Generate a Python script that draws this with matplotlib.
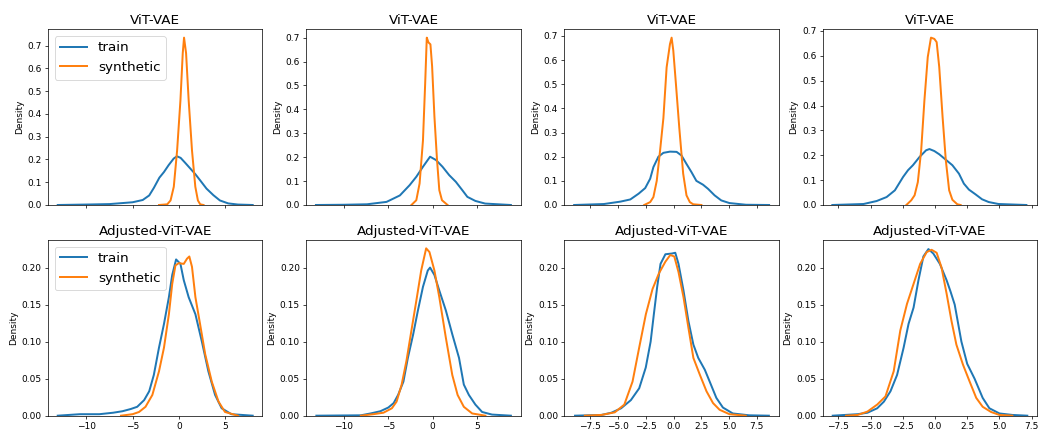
import matplotlib
matplotlib.use("Agg")
import matplotlib.pyplot as plt
from matplotlib.ticker import MultipleLocator

# KDE curves, (x, density) per curve
# top row: ViT-VAE, one curve pair per column
vit_train_1 = [(-13.1, 0.0), (-10.0, 0.002), (-7.5, 0.004), (-5.0, 0.012), (-3.9, 0.022),
               (-3.2, 0.042), (-2.7, 0.075), (-2.1, 0.120), (-1.6, 0.145), (-1.1, 0.175),
               (-0.55, 0.204), (-0.2, 0.214), (0.2, 0.207), (0.7, 0.185), (1.25, 0.160),
               (1.8, 0.135), (2.3, 0.109), (3.0, 0.072), (3.75, 0.043), (4.45, 0.020),
               (5.35, 0.007), (6.4, 0.002), (8.0, 0.0)]
vit_synth_1 = [(-2.14, 0.0), (-1.25, 0.003), (-0.89, 0.02), (-0.54, 0.08), (-0.18, 0.24),
               (0.18, 0.46), (0.43, 0.667), (0.57, 0.735), (0.79, 0.667), (1.07, 0.46),
               (1.43, 0.24), (1.79, 0.08), (2.07, 0.02), (2.32, 0.003), (2.68, 0.0)]

vit_train_2 = [(-13.15, 0.0), (-10.0, 0.001), (-7.4, 0.003), (-5.2, 0.013), (-3.7, 0.04),
               (-2.6, 0.083), (-1.85, 0.118), (-1.1, 0.16), (-0.3, 0.202), (0.37, 0.188),
               (1.1, 0.16), (1.85, 0.125), (2.6, 0.097), (3.33, 0.062), (3.9, 0.034),
               (4.8, 0.017), (5.9, 0.006), (8.8, 0.0)]
vit_synth_2 = [(-2.4, 0.0), (-1.85, 0.02), (-1.48, 0.09), (-1.1, 0.27), (-0.85, 0.51),
               (-0.67, 0.70), (-0.48, 0.68), (-0.26, 0.672), (-0.07, 0.58), (0.19, 0.37),
               (0.48, 0.19), (0.74, 0.062), (1.04, 0.02), (1.67, 0.0)]

vit_train_3 = [(-8.96, 0.0), (-6.28, 0.004), (-4.79, 0.014), (-3.9, 0.023), (-3.15, 0.047),
               (-2.56, 0.07), (-2.11, 0.109), (-1.82, 0.157), (-1.37, 0.2), (-0.92, 0.216),
               (-0.33, 0.221), (0.27, 0.22), (0.71, 0.205), (1.16, 0.17), (1.61, 0.136),
               (2.05, 0.1), (2.65, 0.084), (3.1, 0.067), (3.69, 0.04), (4.29, 0.019),
               (5.03, 0.008), (6.52, 0.001), (8.6, 0.0)]
vit_synth_3 = [(-2.65, 0.0), (-2.11, 0.012), (-1.82, 0.033), (-1.52, 0.1), (-1.22, 0.225),
               (-0.92, 0.36), (-0.63, 0.57), (-0.33, 0.666), (-0.18, 0.693), (-0.03, 0.64),
               (0.21, 0.50), (0.51, 0.32), (0.86, 0.13), (1.16, 0.04), (1.46, 0.012),
               (1.76, 0.003), (2.5, 0.0)]

vit_train_4 = [(-7.96, 0.0), (-5.54, 0.004), (-4.52, 0.016), (-3.75, 0.032), (-3.11, 0.059),
               (-2.47, 0.113), (-2.09, 0.14), (-1.71, 0.16), (-1.2, 0.193), (-0.69, 0.22),
               (-0.43, 0.225), (-0.05, 0.217), (0.33, 0.204), (0.84, 0.182), (1.35, 0.16),
               (1.86, 0.126), (2.24, 0.086), (2.63, 0.062), (3.14, 0.043), (3.65, 0.023),
               (4.16, 0.012), (4.92, 0.004), (7.09, 0.0)]
vit_synth_4 = [(-2.22, 0.0), (-1.84, 0.019), (-1.58, 0.039), (-1.33, 0.092), (-1.07, 0.22),
               (-0.82, 0.42), (-0.56, 0.595), (-0.31, 0.673), (-0.05, 0.668), (0.13, 0.655),
               (0.33, 0.555), (0.59, 0.354), (0.84, 0.18), (1.1, 0.059), (1.35, 0.021),
               (1.73, 0.003), (1.99, 0.0)]

# bottom row: Adjusted-ViT-VAE
adj_train_1 = [(-13.1, 0.0), (-10.7, 0.002), (-8.6, 0.002), (-7.1, 0.004), (-6.1, 0.006),
               (-5.2, 0.009), (-4.5, 0.012), (-3.75, 0.021), (-3.2, 0.033), (-2.7, 0.055),
               (-2.14, 0.092), (-1.6, 0.124), (-1.07, 0.16), (-0.71, 0.19), (-0.29, 0.211),
               (0.18, 0.205), (0.54, 0.183), (1.07, 0.16), (1.8, 0.137), (2.5, 0.1),
               (3.2, 0.06), (3.93, 0.028), (4.64, 0.01), (5.7, 0.002), (8.0, 0.0)]
adj_synth_1 = [(-6.25, 0.0), (-5.0, 0.002), (-4.3, 0.005), (-3.6, 0.012), (-2.86, 0.028),
               (-2.14, 0.06), (-1.6, 0.092), (-1.07, 0.137), (-0.71, 0.178), (-0.36, 0.203),
               (0.0, 0.206), (0.54, 0.205), (0.89, 0.212), (1.14, 0.215), (1.43, 0.201),
               (1.8, 0.16), (2.3, 0.124), (2.86, 0.083), (3.57, 0.046), (4.3, 0.019),
               (5.0, 0.005), (6.4, 0.0)]

adj_train_2 = [(-13.1, 0.0), (-8.1, 0.0005), (-7.0, 0.003), (-5.9, 0.006), (-5.0, 0.011),
               (-4.4, 0.017), (-3.9, 0.028), (-3.3, 0.046), (-2.8, 0.078), (-2.2, 0.11),
               (-1.67, 0.142), (-1.1, 0.174), (-0.56, 0.196), (-0.3, 0.2), (0.19, 0.19),
               (0.74, 0.169), (1.48, 0.142), (2.2, 0.11), (2.96, 0.078), (3.5, 0.042),
               (4.07, 0.028), (4.8, 0.015), (5.56, 0.005), (6.67, 0.0015), (8.8, 0.0)]
adj_synth_2 = [(-8.1, 0.0), (-6.7, 0.002), (-5.55, 0.004), (-4.6, 0.01), (-4.07, 0.019),
               (-3.5, 0.042), (-2.96, 0.074), (-2.4, 0.115), (-1.85, 0.155), (-1.3, 0.196),
               (-0.74, 0.226), (-0.37, 0.221), (0.19, 0.196), (0.74, 0.16), (1.48, 0.105),
               (2.2, 0.055), (2.8, 0.028), (3.5, 0.012), (4.44, 0.003), (5.93, 0.0)]

adj_train_3 = [(-8.88, 0.0), (-6.5, 0.001), (-5.6, 0.004), (-4.73, 0.01), (-3.85, 0.021),
               (-3.1, 0.037), (-2.51, 0.065), (-2.07, 0.1), (-1.78, 0.137), (-1.48, 0.174),
               (-1.18, 0.205), (-0.74, 0.218), (-0.15, 0.219), (0.15, 0.22), (0.44, 0.205),
               (0.89, 0.169), (1.33, 0.128), (1.78, 0.096), (2.22, 0.078), (2.81, 0.062),
               (3.25, 0.046), (3.85, 0.024), (4.44, 0.011), (5.33, 0.003), (6.8, 0.0005),
               (8.58, 0.0)]
adj_synth_3 = [(-8.0, 0.0), (-6.5, 0.001), (-5.3, 0.0045), (-4.44, 0.015), (-3.7, 0.046),
               (-3.1, 0.092), (-2.5, 0.137), (-1.9, 0.171), (-1.33, 0.192), (-0.74, 0.208),
               (-0.3, 0.217), (0.06, 0.215), (0.44, 0.194), (0.89, 0.16), (1.33, 0.119),
               (1.78, 0.078), (2.37, 0.055), (2.96, 0.033), (3.55, 0.017), (4.14, 0.008),
               (5.03, 0.002), (6.5, 0.0)]

adj_train_4 = [(-7.93, 0.0), (-6.0, 0.002), (-5.24, 0.004), (-4.48, 0.01), (-3.96, 0.019),
               (-3.45, 0.033), (-2.94, 0.055), (-2.43, 0.092), (-2.05, 0.124), (-1.66, 0.146),
               (-1.28, 0.183), (-0.9, 0.215), (-0.51, 0.225), (-0.13, 0.219), (0.38, 0.205),
               (0.9, 0.183), (1.2, 0.168), (1.53, 0.15), (2.05, 0.10), (2.5, 0.07),
               (3.07, 0.05), (3.7, 0.024), (4.22, 0.01), (5.0, 0.003), (6.0, 0.001),
               (7.16, 0.0)]
adj_synth_4 = [(-6.9, 0.0), (-6.0, 0.001), (-5.24, 0.0055), (-4.48, 0.015), (-3.84, 0.026),
               (-3.2, 0.06), (-2.69, 0.115), (-2.17, 0.151), (-1.66, 0.178), (-1.15, 0.205),
               (-0.64, 0.221), (-0.26, 0.224), (0.13, 0.22), (0.51, 0.2), (0.9, 0.165),
               (1.28, 0.128), (1.66, 0.096), (2.17, 0.069), (2.69, 0.046), (3.2, 0.024),
               (3.7, 0.012), (4.35, 0.005), (5.0, 0.001), (6.0, 0.0)]

row_titles = ["ViT-VAE", "Adjusted-ViT-VAE"]
series_labels = ["train", "synthetic"]
col_tick_steps = [5, 5, 2.5, 2.5]
train_rows = [[vit_train_1, vit_train_2, vit_train_3, vit_train_4],
              [adj_train_1, adj_train_2, adj_train_3, adj_train_4]]
synth_rows = [[vit_synth_1, vit_synth_2, vit_synth_3, vit_synth_4],
              [adj_synth_1, adj_synth_2, adj_synth_3, adj_synth_4]]

# original was a larger figure shrunk down, so render at a low dpi with default font sizes
dpi = 64.8
fig, axes = plt.subplots(2, 4, figsize=(1041 / dpi, 430 / dpi), dpi=dpi, sharex="col")
fig.subplots_adjust(left=0.0461, right=0.9962, top=0.9319, bottom=0.0333,
                    wspace=0.204, hspace=0.199)
for ax in axes[1, 1:]:
    ax.sharey(axes[1, 0])


def draw_curve(ax, pts, color, label):
    xs = [p[0] for p in pts]
    ys = [p[1] for p in pts]
    (line,) = ax.plot(xs, ys, color=color, label=label, linewidth=2.2)
    line.sticky_edges.y[:] = [0]  # density axis starts at 0, like seaborn
    return line


for r in range(2):
    for c in range(4):
        ax = axes[r, c]
        draw_curve(ax, train_rows[r][c], "C0", series_labels[0])
        draw_curve(ax, synth_rows[r][c], "C1", series_labels[1])
        ax.set_title(row_titles[r], fontsize=15)
        ax.set_ylabel("Density")
        ax.xaxis.set_major_locator(MultipleLocator(col_tick_steps[c]))
        if c == 0:
            ax.legend(loc="upper left", fontsize=15)

fig.savefig("out.png", dpi=dpi)
